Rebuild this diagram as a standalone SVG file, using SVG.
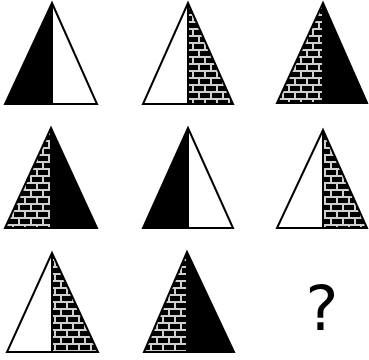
<svg xmlns="http://www.w3.org/2000/svg" width="369" height="360" viewBox="0 0 369 360">
<defs>
<pattern id="brick" patternUnits="userSpaceOnUse" width="12" height="14">
<rect width="12" height="14" fill="#000"/>
<rect x="0" y="0" width="12" height="2" fill="#d0d0d0"/>
<rect x="0" y="7" width="12" height="2" fill="#d0d0d0"/>
<rect x="0" y="0" width="2" height="7" fill="#d0d0d0"/>
<rect x="6" y="7" width="2" height="7" fill="#d0d0d0"/>
</pattern>
<style>
.blk{fill:#000}
.wht{fill:#fff}
.brk{fill:url(#brick)}
.out{fill:none;stroke:#000;stroke-width:2;stroke-linejoin:miter}
.mid{stroke:#000;stroke-width:2}
.q{font-family:"DejaVu Sans",sans-serif;font-size:62px;fill:#000}
</style>
</defs>
<rect width="369" height="360" fill="#fff"/>
<g id="t1">
<polygon class="blk" points="52,3 52,104 5,104"/>
<polygon class="wht" points="52,3 97,104 52,104"/>
<polygon class="out" points="52,3 97,104 5,104"/>
<line class="mid" x1="52" y1="3" x2="52" y2="104"/>
</g>
<g id="t2">
<polygon class="wht" points="188,3 188,104 143,104"/>
<polygon class="brk" points="188,3 233,104 188,104"/>
<polygon class="out" points="188,3 233,104 143,104"/>
<line class="mid" x1="188" y1="3" x2="188" y2="104"/>
</g>
<g id="t3">
<polygon class="brk" points="323,3 323,103 277,103"/>
<polygon class="blk" points="323,3 368,103 323,103"/>
<polygon class="out" points="323,3 367,103 277,103"/>
<line class="mid" x1="323" y1="3" x2="323" y2="103"/>
</g>
<g id="t4">
<polygon class="brk" points="51,128 51,228 5,228"/>
<polygon class="blk" points="51,128 97,228 51,228"/>
<polygon class="out" points="51,128 97,228 5,228"/>
<line class="mid" x1="51" y1="128" x2="51" y2="228"/>
</g>
<g id="t5">
<polygon class="blk" points="188,128 188,228 143,228"/>
<polygon class="wht" points="188,128 233,228 188,228"/>
<polygon class="out" points="188,128 233,228 143,228"/>
<line class="mid" x1="188" y1="128" x2="188" y2="228"/>
</g>
<g id="t6">
<polygon class="wht" points="323,130 323,228 277,228"/>
<polygon class="brk" points="323,130 367,228 323,228"/>
<polygon class="out" points="323,130 367,228 277,228"/>
<line class="mid" x1="323" y1="130" x2="323" y2="228"/>
</g>
<g id="t7">
<polygon class="wht" points="52,253 52,352 7,352"/>
<polygon class="brk" points="52,253 98,352 52,352"/>
<polygon class="out" points="52,253 98,352 7,352"/>
<line class="mid" x1="52" y1="253" x2="52" y2="352"/>
</g>
<g id="t8">
<polygon class="brk" points="187,252 187,352 144,352"/>
<polygon class="blk" points="187,252 234,352 187,352"/>
<polygon class="out" points="187,252 234,352 144,352"/>
<line class="mid" x1="187" y1="252" x2="187" y2="352"/>
</g>
<g id="q">
<text class="q" x="322" y="330" text-anchor="middle">?</text>
</g>
</svg>
